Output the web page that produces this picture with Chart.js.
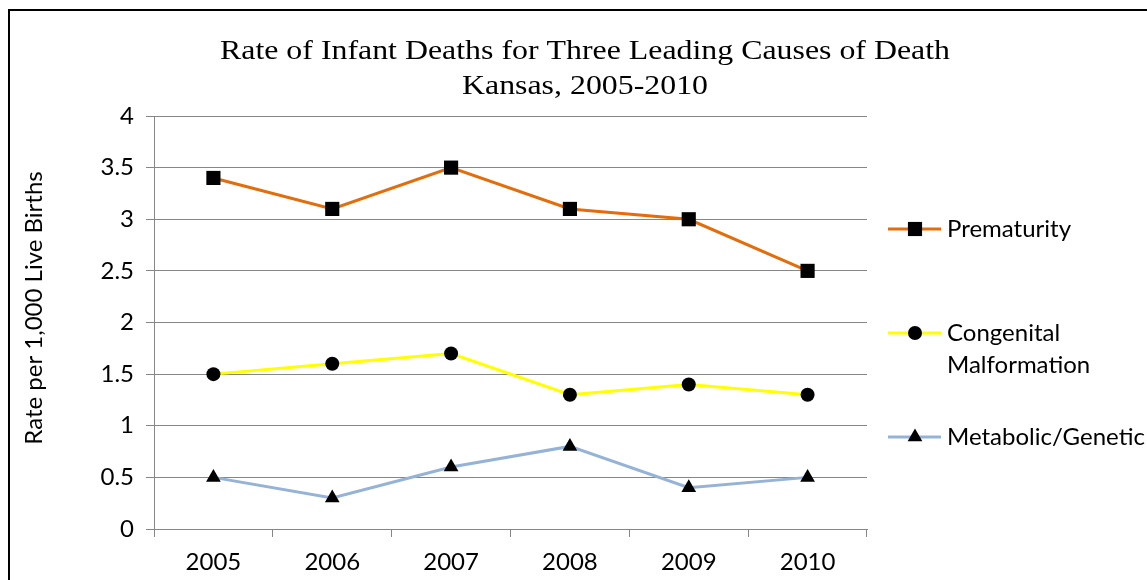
<!DOCTYPE html>
<html>
<head>
<meta charset="utf-8">
<script src="https://cdn.jsdelivr.net/npm/chart.js@4/dist/chart.umd.min.js"></script>
<style>
  html, body { margin: 0; padding: 0; background: #fff; }
  #wrap { width: 1147px; height: 580px; position: relative; }
</style>
</head>
<body>
<div id="wrap"><canvas id="chart"></canvas></div>
<script>
const years = ["2005", "2006", "2007", "2008", "2009", "2010"];
const prematurity = [3.4, 3.1, 3.5, 3.1, 3.0, 2.5];
const congenital = [1.5, 1.6, 1.7, 1.3, 1.4, 1.3];
const metabolic = [0.5, 0.3, 0.6, 0.8, 0.4, 0.5];
const yTicks = [0, 0.5, 1, 1.5, 2, 2.5, 3, 3.5, 4];
const titleLines = ["Rate of Infant Deaths for Three Leading Causes of Death", "Kansas, 2005-2010"];
const yTitle = "Rate per 1,000 Live Births";

const tickFont = { family: "Lato, 'Open Sans', sans-serif", size: 24 };
const gridColor = "#868686";

// legend is drawn by hand on the right, line + marker like the office chart
const legendRows = [
  { label: ["Prematurity"], y: 229, ds: 0 },
  { label: ["Congenital", "Malformation"], y: 333, ds: 1 },
  { label: ["Metabolic/Genetic"], y: 437, ds: 2 },
];

const sideLegend = {
  id: "sideLegend",
  afterDraw(chart) {
    const ctx = chart.ctx;
    ctx.save();
    legendRows.forEach((row) => {
      const ds = chart.data.datasets[row.ds];
      ctx.strokeStyle = ds.borderColor;
      ctx.lineWidth = 3;
      ctx.beginPath();
      ctx.moveTo(888, row.y);
      ctx.lineTo(941, row.y);
      ctx.stroke();
      ctx.fillStyle = "#000";
      Chart.helpers.drawPoint(ctx, {
        pointStyle: ds.pointStyle,
        radius: ds.pointRadius,
        borderWidth: 0,
      }, 915, row.y);
      ctx.font = "24px Lato, 'Open Sans', sans-serif";
      ctx.textBaseline = "middle";
      ctx.textAlign = "left";
      row.label.forEach((t, i) => ctx.fillText(t, 947, row.y + i * 32));
    });
    ctx.restore();
  },
};

// frame, the wide serif title and the y title (sits a bit above centre in the original)
const frame = {
  id: "frame",
  beforeDraw(chart) {
    const ctx = chart.ctx;
    ctx.save();
    ctx.fillStyle = "#fff";
    ctx.fillRect(0, 0, chart.width, chart.height);
    ctx.strokeStyle = "#000";
    ctx.lineWidth = 2;
    ctx.strokeRect(9, 10, 1300, 700);

    ctx.font = "28px 'Liberation Serif', 'Times New Roman', serif";
    ctx.fillStyle = "#000";
    ctx.textAlign = "center";
    ctx.textBaseline = "alphabetic";
    const sx = 730 / ctx.measureText(titleLines[0]).width;
    ctx.save();
    ctx.translate(585, 0);
    ctx.scale(sx, 1);
    ctx.fillText(titleLines[0], 0, 59);
    ctx.fillText(titleLines[1], 0, 94);
    ctx.restore();

    ctx.font = "24px Lato, 'Open Sans', sans-serif";
    ctx.textBaseline = "middle";
    ctx.translate(34, 308);
    ctx.rotate(-Math.PI / 2);
    ctx.fillText(yTitle, 0, 0);
    ctx.restore();
  },
};

new Chart(document.getElementById("chart"), {
  type: "line",
  data: {
    labels: years,
    datasets: [
      {
        label: "Prematurity",
        data: prematurity,
        borderColor: "#E46C0A",
        backgroundColor: "#000",
        borderWidth: 3,
        pointStyle: "rect",
        pointRadius: 10,
        pointBorderWidth: 0,
      },
      {
        label: "Congenital Malformation",
        data: congenital,
        borderColor: "#FFFF00",
        backgroundColor: "#000",
        borderWidth: 3,
        pointStyle: "circle",
        pointRadius: 7,
        pointBorderWidth: 0,
      },
      {
        label: "Metabolic/Genetic",
        data: metabolic,
        borderColor: "#95B3D7",
        backgroundColor: "#000",
        borderWidth: 3,
        pointStyle: "triangle",
        pointRadius: 8.5,
        pointBorderWidth: 0,
      },
    ],
  },
  options: {
    responsive: true,
    maintainAspectRatio: false,
    animation: false,
    layout: { padding: { left: 0, right: 280, top: 116, bottom: 0 } },
    plugins: {
      legend: { display: false },
      tooltip: { enabled: false },
      title: { display: false },
    },
    scales: {
      x: {
        offset: true,
        grid: { display: true, drawOnChartArea: false, color: gridColor, tickLength: 8, offset: true },
        border: { color: gridColor },
        ticks: { color: "#000", font: tickFont, padding: 11, maxRotation: 0 },
        afterFit(scale) { scale.height = 51; },
      },
      y: {
        min: 0,
        max: 4,
        afterBuildTicks(scale) { scale.ticks = yTicks.map((v) => ({ value: v })); },
        grid: { color: gridColor, tickLength: 8 },
        border: { color: gridColor },
        ticks: { color: "#000", font: tickFont, padding: 12, callback: (v) => String(v) },
        title: { display: false },
        afterFit(scale) { scale.width = 154; },
      },
    },
  },
  plugins: [frame, sideLegend],
});
</script>
</body>
</html>
